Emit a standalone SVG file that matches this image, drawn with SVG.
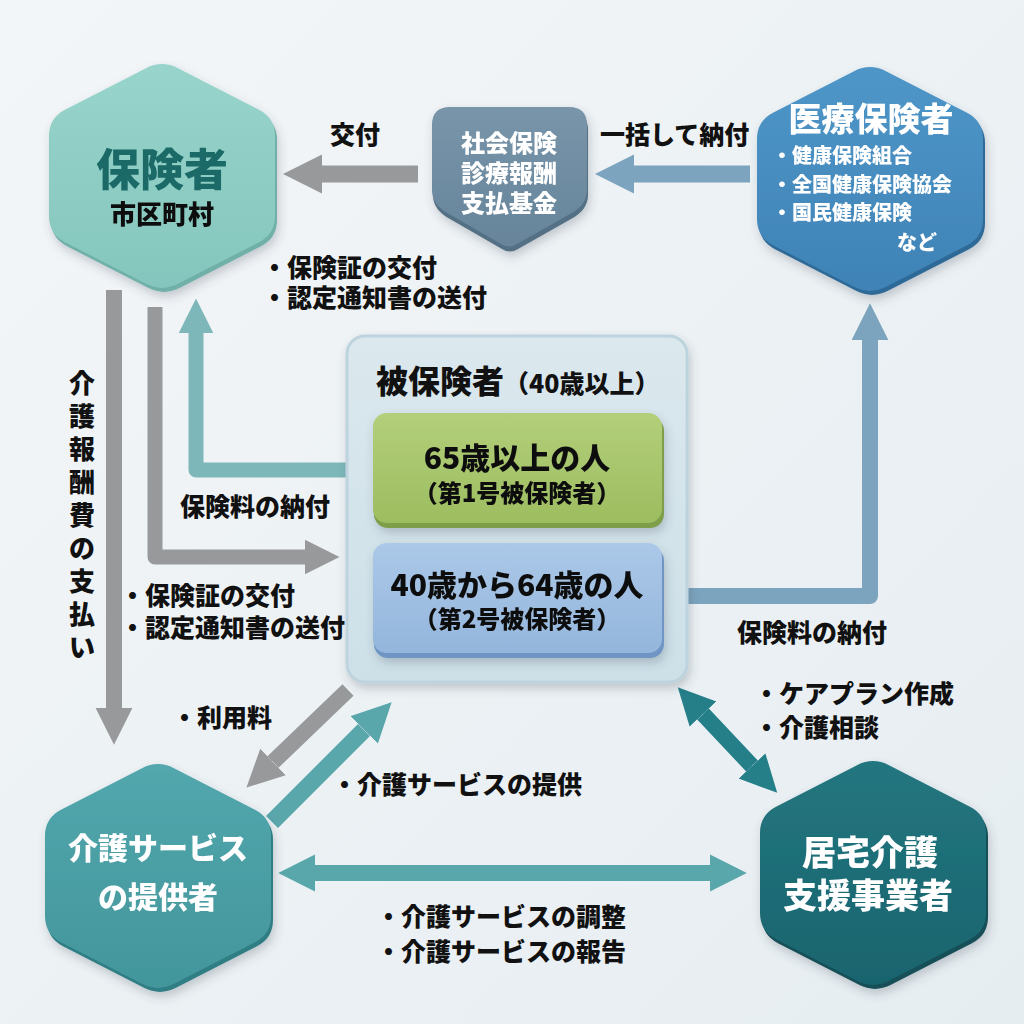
<svg xmlns="http://www.w3.org/2000/svg" xmlns:xlink="http://www.w3.org/1999/xlink" width="1024" height="1024" viewBox="0 0 1024 1024">
<defs>
<style>
text{font-family:"Noto Sans CJK JP","Noto Sans",sans-serif;font-weight:900}
.lbl{fill:#111;font-size:25px}
.wt{fill:#fff}
.conn{fill:none;stroke-linejoin:round}
</style>
<linearGradient id="bg" x1="0" y1="0" x2="1" y2="1"><stop offset="0" stop-color="#f3f6f8"/><stop offset="1" stop-color="#e6edf1"/></linearGradient>
<linearGradient id="gTL" x1="0" y1="0" x2="0" y2="1"><stop offset="0" stop-color="#98d4cb"/><stop offset="1" stop-color="#84c6bd"/></linearGradient>
<linearGradient id="gTR" x1="0" y1="0" x2="0" y2="1"><stop offset="0" stop-color="#4f96c8"/><stop offset="1" stop-color="#3f83b6"/></linearGradient>
<linearGradient id="gBL" x1="0" y1="0" x2="0" y2="1"><stop offset="0" stop-color="#52a7ad"/><stop offset="1" stop-color="#42969c"/></linearGradient>
<linearGradient id="gBR" x1="0" y1="0" x2="0" y2="1"><stop offset="0" stop-color="#23767f"/><stop offset="1" stop-color="#19646e"/></linearGradient>
<linearGradient id="gSh" x1="0" y1="0" x2="0" y2="1"><stop offset="0" stop-color="#7895aa"/><stop offset="1" stop-color="#66849a"/></linearGradient>
<linearGradient id="gCont" x1="0" y1="0" x2="0" y2="1"><stop offset="0" stop-color="#dbe8ee"/><stop offset="1" stop-color="#cde0e8"/></linearGradient>
<linearGradient id="gGreen" x1="0" y1="0" x2="0" y2="1"><stop offset="0" stop-color="#b3cf7a"/><stop offset="1" stop-color="#9dbd60"/></linearGradient>
<linearGradient id="gBlue" x1="0" y1="0" x2="0" y2="1"><stop offset="0" stop-color="#abc8e8"/><stop offset="1" stop-color="#94b6dc"/></linearGradient>
<filter id="sh" x="-20%" y="-20%" width="140%" height="140%"><feDropShadow dx="2" dy="5" stdDeviation="5" flood-color="#3a4a55" flood-opacity="0.25"/></filter>
<path id="hex" d="M 16 -107.8 L 97 -66.2 Q 113 -58 113 -40 L 113 40 Q 113 58 97 66.2 L 16 107.8 Q 0 116 -16 107.8 L -97 66.2 Q -113 58 -113 40 L -113 -40 Q -113 -58 -97 -66.2 L -16 -107.8 Q 0 -116 16 -107.8 Z"/>
<marker id="mGray" viewBox="0 0 10 10" refX="0" refY="5" markerWidth="2.3" markerHeight="2.7" orient="auto-start-reverse"><path d="M0,0 L10,5 L0,10 Z" fill="#98999b"/></marker>
<marker id="mSteel" viewBox="0 0 10 10" refX="0" refY="5" markerWidth="2.3" markerHeight="2.7" orient="auto-start-reverse"><path d="M0,0 L10,5 L0,10 Z" fill="#7ca4be"/></marker>
<marker id="mTealL" viewBox="0 0 10 10" refX="0" refY="5" markerWidth="2.3" markerHeight="2.7" orient="auto-start-reverse"><path d="M0,0 L10,5 L0,10 Z" fill="#7db7b9"/></marker>
<marker id="mTeal" viewBox="0 0 10 10" refX="0" refY="5" markerWidth="2.3" markerHeight="2.7" orient="auto-start-reverse"><path d="M0,0 L10,5 L0,10 Z" fill="#5aa7ab"/></marker>
<marker id="mTealD" viewBox="0 0 10 10" refX="0" refY="5" markerWidth="2.3" markerHeight="2.7" orient="auto-start-reverse"><path d="M0,0 L10,5 L0,10 Z" fill="#247f89"/></marker>
</defs>
<rect width="1024" height="1024" fill="url(#bg)"/>

<g id="connectors">
<path class="conn" d="M418,174 H322" stroke="#98999b" stroke-width="17" marker-end="url(#mGray)"/>
<path class="conn" d="M750,174 H634" stroke="#7ca4be" stroke-width="17" marker-end="url(#mSteel)"/>
<path class="conn" d="M114,290 V708" stroke="#98999b" stroke-width="16" marker-end="url(#mGray)"/>
<path class="conn" d="M155,307 V557 H305" stroke="#98999b" stroke-width="15" marker-end="url(#mGray)"/>
<path class="conn" d="M372,470 H196 V333" stroke="#7db7b9" stroke-width="15" marker-end="url(#mTealL)"/>
<path class="conn" d="M663,596 H870 V340" stroke="#7ca4be" stroke-width="16" marker-end="url(#mSteel)"/>
<path class="conn" d="M348,690 L273,762" stroke="#98999b" stroke-width="16" marker-end="url(#mGray)"/>
<path class="conn" d="M272,822 L364,730" stroke="#5aa7ab" stroke-width="17" marker-end="url(#mTeal)"/>
<path class="conn" d="M703,714 L752,766" stroke="#247f89" stroke-width="16" marker-start="url(#mTealD)" marker-end="url(#mTealD)"/>
<path class="conn" d="M315,873 H710" stroke="#5aa7ab" stroke-width="16" marker-start="url(#mTeal)" marker-end="url(#mTeal)"/>
</g>

<g id="labels">
<text class="lbl" x="330" y="144" font-size="26">交付</text>
<text class="lbl" x="600" y="144">一括して納付</text>
<text class="lbl" x="262" y="277">・保険証の交付</text>
<text class="lbl" x="262" y="307">・認定通知書の送付</text>
<g class="lbl" text-anchor="middle">
<text x="82" y="393" font-size="26">介</text>
<text x="82" y="426" font-size="26">護</text>
<text x="82" y="459" font-size="26">報</text>
<text x="82" y="492" font-size="26">酬</text>
<text x="82" y="525" font-size="26">費</text>
<text x="82" y="558" font-size="26">の</text>
<text x="82" y="591" font-size="26">支</text>
<text x="82" y="624" font-size="26">払</text>
<text x="82" y="657" font-size="26">い</text>
</g>
<text class="lbl" x="180" y="516" font-size="26">保険料の納付</text>
<text class="lbl" x="120" y="605" font-size="21">・保険証の交付</text>
<text class="lbl" x="120" y="637" font-size="21">・認定通知書の送付</text>
<text class="lbl" x="737" y="642" font-size="26">保険料の納付</text>
<text class="lbl" x="172" y="727" font-size="24">・利用料</text>
<text class="lbl" x="332" y="794" font-size="26">・介護サービスの提供</text>
<text class="lbl" x="754" y="703">・ケアプラン作成</text>
<text class="lbl" x="754" y="737">・介護相談</text>
<text class="lbl" x="376" y="926" font-size="26">・介護サービスの調整</text>
<text class="lbl" x="376" y="961" font-size="26">・介護サービスの報告</text>
</g>

<g id="node-hokensha" filter="url(#sh)">
<use href="#hex" transform="translate(164,180)" fill="#6fb0a8"/>
<use href="#hex" transform="translate(162,176)" fill="url(#gTL)"/>
<text x="162" y="186" text-anchor="middle" font-size="44" fill="#1b6a68">保険者</text>
<text x="162" y="224" text-anchor="middle" font-size="26" fill="#111">市区町村</text>
</g>

<g id="node-kikin" filter="url(#sh)">
<path d="M450 109 H569 Q587 109 587 127 V192 Q587 207 570 216 L517 246 Q509 251 501 246 L449 216 Q432 207 432 192 V127 Q432 109 450 109 Z" fill="#526f84" transform="translate(1,3)"/>
<path d="M450 107 H569 Q587 107 587 125 V190 Q587 205 570 214 L517 244 Q509 249 501 244 L449 214 Q432 205 432 190 V125 Q432 107 450 107 Z" fill="url(#gSh)"/>
<g text-anchor="middle" font-size="24" class="wt">
<text x="509" y="152" class="wt">社会保険</text>
<text x="509" y="182" class="wt">診療報酬</text>
<text x="509" y="212" class="wt">支払基金</text>
</g>
</g>

<g id="node-iryo" filter="url(#sh)">
<use href="#hex" transform="translate(872,183)" fill="#2f6a98"/>
<use href="#hex" transform="translate(870,179)" fill="url(#gTR)"/>
<text x="871" y="131" text-anchor="middle" font-size="33" class="wt">医療保険者</text>
<text x="772" y="163" font-size="20" class="wt">・健康保険組合</text>
<text x="772" y="192" font-size="20" class="wt">・全国健康保険協会</text>
<text x="772" y="220" font-size="20" class="wt">・国民健康保険</text>
<text x="897" y="250" font-size="20" class="wt">など</text>
</g>

<g id="node-hihokensha">
<rect x="347" y="336" width="340" height="346" rx="18" fill="url(#gCont)" stroke="#bdd3dd" stroke-width="3" filter="url(#sh)"/>
<text x="376" y="393" font-size="32" fill="#111">被保険者<tspan font-size="25">（40歳以上）</tspan></text>
<g id="node-dai1" filter="url(#sh)">
<rect x="374" y="417" width="290" height="111" rx="14" fill="#7e9e48"/>
<rect x="373" y="413" width="289" height="110" rx="14" fill="url(#gGreen)"/>
<text x="517" y="469" text-anchor="middle" font-size="30" fill="#111">65歳以上の人</text>
<text x="517" y="502" text-anchor="middle" font-size="24" fill="#111">（第1号被保険者）</text>
</g>
<g id="node-dai2" filter="url(#sh)">
<rect x="374" y="547" width="290" height="111" rx="14" fill="#6f95c4"/>
<rect x="373" y="543" width="289" height="110" rx="14" fill="url(#gBlue)"/>
<text x="517" y="596" text-anchor="middle" font-size="30" fill="#111">40歳から64歳の人</text>
<text x="517" y="628" text-anchor="middle" font-size="24" fill="#111">（第2号被保険者）</text>
</g>
</g>

<g id="node-teikyosha" filter="url(#sh)">
<use href="#hex" transform="translate(160,880)" fill="#2f7e84"/>
<use href="#hex" transform="translate(158,876)" fill="url(#gBL)"/>
<text x="158" y="859" text-anchor="middle" font-size="30" class="wt">介護サービス</text>
<text x="158" y="908" text-anchor="middle" font-size="30" class="wt">の提供者</text>
</g>

<g id="node-kyotaku" filter="url(#sh)">
<use href="#hex" transform="translate(875,877)" fill="#124f58"/>
<use href="#hex" transform="translate(873,873)" fill="url(#gBR)"/>
<text x="870" y="865" text-anchor="middle" font-size="34" class="wt">居宅介護</text>
<text x="868" y="908" text-anchor="middle" font-size="34" class="wt">支援事業者</text>
</g>
</svg>
